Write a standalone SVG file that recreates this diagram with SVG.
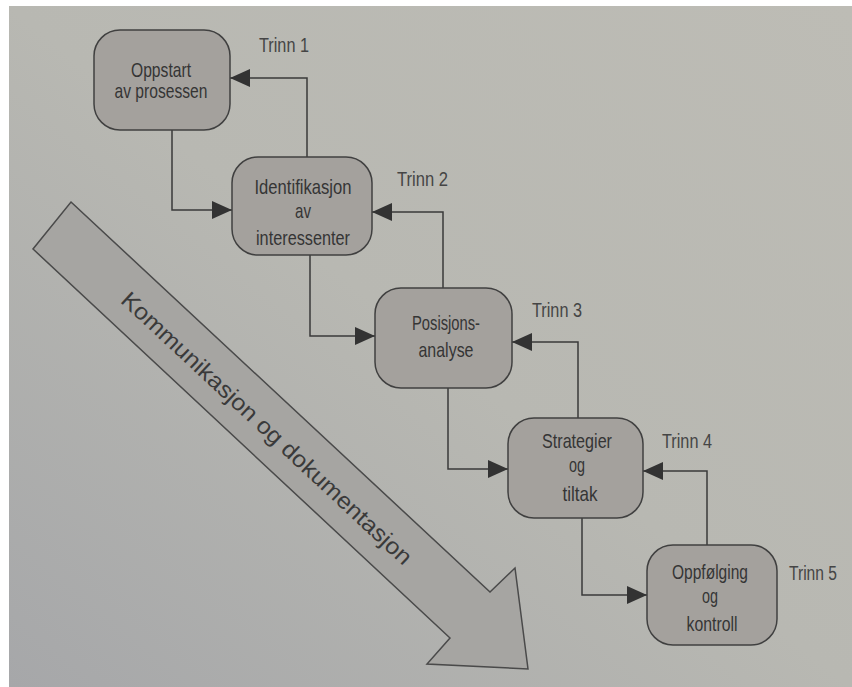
<svg xmlns="http://www.w3.org/2000/svg" width="852" height="687" viewBox="0 0 852 687">
  <defs>
    <linearGradient id="paper" x1="1" y1="0" x2="0" y2="1">
      <stop offset="0" stop-color="#bdbcb5"/>
      <stop offset="0.5" stop-color="#b8b8b2"/>
      <stop offset="1" stop-color="#a6a7a9"/>
    </linearGradient>
    <marker id="head" markerUnits="userSpaceOnUse" markerWidth="20" markerHeight="18" refX="20" refY="9" orient="auto">
      <path d="M0,0 L20,9 L0,18 Z" fill="#333"/>
    </marker>
    <style>
      .node rect { fill: #a4a19d; stroke: #404040; stroke-width: 1.5; }
      .node text { font-family: "Liberation Sans Narrow", "Liberation Sans", Arial, sans-serif; font-size: 21px; fill: #353535; text-anchor: middle; }
      .step { font-family: "Liberation Sans Narrow", "Liberation Sans", Arial, sans-serif; font-size: 20px; fill: #454545; }
      .conn path { fill: none; stroke: #3a3a3a; stroke-width: 1.5; marker-end: url(#head); }
      .flow { fill: #a6a5a2; stroke: #4a4a4a; stroke-width: 1.5; stroke-linejoin: miter; }
      .flow-label { font-family: "Century Gothic", "URW Gothic", "Liberation Sans", Arial, sans-serif; font-size: 23px; fill: #3a3a3a; text-anchor: middle; }
    </style>
  </defs>

  <!-- page -->
  <rect x="0" y="0" width="852" height="687" fill="#ffffff"/>
  <rect x="9" y="6" width="843" height="681" fill="url(#paper)"/>

  <!-- broad diagonal arrow -->
  <g id="flow-arrow">
    <polygon class="flow" points="71,202 490,592 515,568 528,669 427,664 450,638 33,249"/>
    <text class="flow-label" transform="translate(261.5,434) rotate(43)" x="0" y="0" textLength="388" lengthAdjust="spacingAndGlyphs">Kommunikasjon og dokumentasjon</text>
  </g>

  <!-- connectors -->
  <g id="connectors" class="conn">
    <path d="M172,130 V210 H232"/>
    <path d="M307,157 V78 H230"/>
    <path d="M310,255 V336 H375"/>
    <path d="M443,288 V212 H372"/>
    <path d="M448,388 V469 H508"/>
    <path d="M578,418 V342 H512"/>
    <path d="M582,518 V595 H647"/>
    <path d="M707,545 V471 H643"/>
  </g>

  <!-- steps -->
  <g id="node1" class="node">
    <rect x="94" y="30" width="136" height="100" rx="26"/>
    <text x="161" y="77" textLength="60" lengthAdjust="spacingAndGlyphs">Oppstart</text>
    <text x="161" y="98" textLength="93" lengthAdjust="spacingAndGlyphs">av prosessen</text>
  </g>
  <g id="node2" class="node">
    <rect x="232" y="157" width="140" height="98" rx="26"/>
    <text x="303" y="194" textLength="97" lengthAdjust="spacingAndGlyphs">Identifikasjon</text>
    <text x="303" y="218" textLength="16" lengthAdjust="spacingAndGlyphs">av</text>
    <text x="303" y="245" textLength="94" lengthAdjust="spacingAndGlyphs">interessenter</text>
  </g>
  <g id="node3" class="node">
    <rect x="375" y="288" width="137" height="100" rx="26"/>
    <text x="446" y="330" textLength="68" lengthAdjust="spacingAndGlyphs">Posisjons-</text>
    <text x="446" y="357" textLength="55" lengthAdjust="spacingAndGlyphs">analyse</text>
  </g>
  <g id="node4" class="node">
    <rect x="508" y="418" width="135" height="100" rx="26"/>
    <text x="577" y="448" textLength="70" lengthAdjust="spacingAndGlyphs">Strategier</text>
    <text x="577" y="472" textLength="16" lengthAdjust="spacingAndGlyphs">og</text>
    <text x="580" y="501" textLength="35" lengthAdjust="spacingAndGlyphs">tiltak</text>
  </g>
  <g id="node5" class="node">
    <rect x="647" y="545" width="130" height="100" rx="26"/>
    <text x="710" y="579" textLength="76" lengthAdjust="spacingAndGlyphs">Oppfølging</text>
    <text x="710" y="603" textLength="16" lengthAdjust="spacingAndGlyphs">og</text>
    <text x="712" y="631" textLength="51" lengthAdjust="spacingAndGlyphs">kontroll</text>
  </g>

  <!-- step labels -->
  <g id="step-labels">
    <text class="step" x="259" y="52" textLength="50" lengthAdjust="spacingAndGlyphs">Trinn 1</text>
    <text class="step" x="397" y="186" textLength="51" lengthAdjust="spacingAndGlyphs">Trinn 2</text>
    <text class="step" x="532" y="317" textLength="50" lengthAdjust="spacingAndGlyphs">Trinn 3</text>
    <text class="step" x="662" y="448" textLength="50" lengthAdjust="spacingAndGlyphs">Trinn 4</text>
    <text class="step" x="789" y="580" textLength="48" lengthAdjust="spacingAndGlyphs">Trinn 5</text>
  </g>
</svg>
